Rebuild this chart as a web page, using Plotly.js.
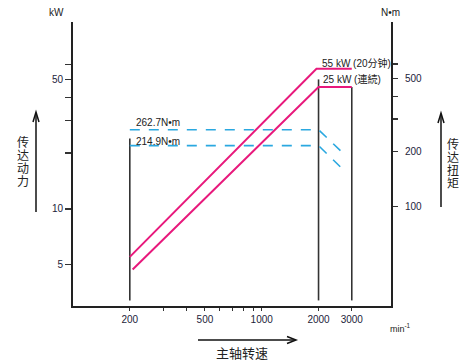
<!DOCTYPE html>
<html>
<head>
<meta charset="utf-8">
<script src="https://cdn.plot.ly/plotly-3.0.1.min.js"></script>
<style>html,body{margin:0;padding:0;background:#fff;}#chart{width:464px;height:363px;}</style>
</head>
<body>
<div id="chart"></div>
<script>
// ---- data ----
const speedTicks = [200, 300, 400, 500, 600, 700, 800, 900, 1000, 2000, 3000];
const speedTickText = ['200', '', '', '500', '', '', '', '', '1000', '2000', '3000'];
const powerTicks = [5, 10, 20, 30, 40, 50, 60];
const powerTickText = ['5', '10', '', '', '', '50', ''];
const torqueTicks = [100, 200, 300, 400, 500, 600];
const torqueTickText = ['100', '200', '', '', '500', ''];

// vertical limit lines (rpm, bottom kW, top kW)
const limitRpm = [200, 2000, 3000];
const limitBottomKW = [3.2, 3.2, 3.2];
const limitTopKW = [24, 50, 45.5];

// power curves (kW)
const power20minRpm = [200, 1950, 3000];
const power20minKW = [5.5, 57, 57];
const powerContRpm = [207, 2000, 3000];
const powerContKW = [4.7, 45.5, 45.5];

// torque curves (N·m)
const torqueRpm = [200, 2000, 2650];
const torque20minNm = [262.7, 262.7, 199];
const torqueContNm = [214.9, 214.9, 162];

// ---- traces ----
const vx = [], vy = [];
limitRpm.forEach((r, i) => { vx.push(r, r, null); vy.push(limitBottomKW[i], limitTopKW[i], null); });

const pink = '#e8197c';
const cyan = '#2aa8e0';
const traces = [
  {x: vx, y: vy, mode: 'lines', line: {color: '#333', width: 1.6}, hoverinfo: 'skip'},
  {x: power20minRpm, y: power20minKW, mode: 'lines', line: {color: pink, width: 2}},
  {x: powerContRpm, y: powerContKW, mode: 'lines', line: {color: pink, width: 2}},
  {x: torqueRpm, y: torque20minNm, yaxis: 'y2', mode: 'lines', line: {color: cyan, width: 1.6, dash: '10px,9px'}},
  {x: torqueRpm, y: torqueContNm, yaxis: 'y2', mode: 'lines', line: {color: cyan, width: 1.6, dash: '10px,9px'}}
];

// ---- layout helpers (pixel -> paper) ----
const L = 73, T = 22, W = 318, H = 284;
const px = v => (v - L) / W;
const py = v => (T + H - v) / H;
const FONT = 'Liberation Sans, Arial, Noto Sans CJK SC, Noto Sans CJK JP, sans-serif';
const CJK = 'Noto Sans CJK SC, Noto Sans CJK JP, sans-serif';

function txt(x, y, text, size, anchor, family) {
  return {xref: 'paper', yref: 'paper', x: px(x), y: py(y), text: text, showarrow: false,
    xanchor: anchor || 'center', yanchor: 'middle', font: {size: size, color: '#222', family: family || FONT}};
}
function seg(pts, w) {
  const d = pts.map((p, i) => (i ? 'L' : 'M') + px(p[0]).toFixed(5) + ',' + py(p[1]).toFixed(5)).join(' ');
  return {type: 'path', xref: 'paper', yref: 'paper', path: d, line: {color: '#111', width: w || 1.5}};
}

// vertical side labels (drawn upright, top to bottom)
const verticalLabels = [
  {text: '传达动力', cx: 23, cy: 162},
  {text: '传达扭矩', cx: 453, cy: 164}
];

const annotations = [
  txt(56, 13, 'kW', 10),
  txt(390, 13, 'N•m', 10),
  txt(320, 63, '55 kW (20分钟)', 10, 'left'),
  txt(321, 79, '25 kW (連続)', 10, 'left'),
  txt(134, 123, '262.7N•m', 10, 'left'),
  txt(134, 141, '214.9N•m', 10, 'left'),
  txt(388, 328, 'min<sup>-1</sup>', 9, 'left'),
  txt(242, 352, '主轴转速', 13, 'center', CJK)
];
const vStart = annotations.length;
verticalLabels.forEach(v => annotations.push(txt(v.cx, v.cy, v.text, 12, 'center', CJK)));

const shapes = [
  seg([[36, 212], [36, 113]]),
  seg([[33, 122], [36, 112], [39, 122]]),
  seg([[441, 207], [441, 114]]),
  seg([[438, 123], [441, 113], [444, 123]]),
  seg([[198, 340], [295, 340]]),
  seg([[287, 336.5], [296, 340], [287, 343.5]])
];

const axisCommon = {showgrid: false, zeroline: false, showline: true, linecolor: '#222', linewidth: 2,
  ticks: 'outside', tickcolor: '#333', tickwidth: 1.5, tickfont: {size: 10, color: '#1c1c3a', family: FONT}};

const layout = {
  width: 464, height: 363,
  margin: {l: L, r: 464 - L - W, t: T, b: 363 - T - H, pad: 0},
  paper_bgcolor: '#fff', plot_bgcolor: '#fff',
  showlegend: false,
  font: {family: FONT},
  xaxis: Object.assign({}, axisCommon, {type: 'log', range: [2, 3.685], tickmode: 'array',
    tickvals: speedTicks, ticktext: speedTickText, ticklen: 3, tickwidth: 1}),
  yaxis: Object.assign({}, axisCommon, {type: 'log', range: [0.475, 2.009], tickmode: 'array',
    tickvals: powerTicks, ticktext: powerTickText, ticklen: 6}),
  yaxis2: Object.assign({}, axisCommon, {type: 'log', range: [1.454, 3.0095], overlaying: 'y', side: 'right',
    tickmode: 'array', tickvals: torqueTicks, ticktext: torqueTickText, ticklen: 5, ticklabelstandoff: 5}),
  annotations: annotations,
  shapes: shapes
};

const gd = document.getElementById('chart');
Plotly.newPlot(gd, traces, layout, {staticPlot: true, displayModeBar: false}).then(() => {
  const base = gd.getBoundingClientRect();
  verticalLabels.forEach((v, i) => {
    const ann = gd.querySelector('.annotation[data-index="' + (vStart + i) + '"] text.annotation-text');
    if (!ann) return;
    ann.style.writingMode = 'vertical-rl';
    ann.style.textOrientation = 'upright';
    ann.style.letterSpacing = '1px';
    const r = ann.getBoundingClientRect();
    const dx = v.cx - (r.left - base.left + r.width / 2);
    const dy = v.cy - (r.top - base.top + r.height / 2);
    ann.setAttribute('transform', 'translate(' + dx.toFixed(2) + ',' + dy.toFixed(2) + ')');
  });
});
</script>
</body>
</html>
